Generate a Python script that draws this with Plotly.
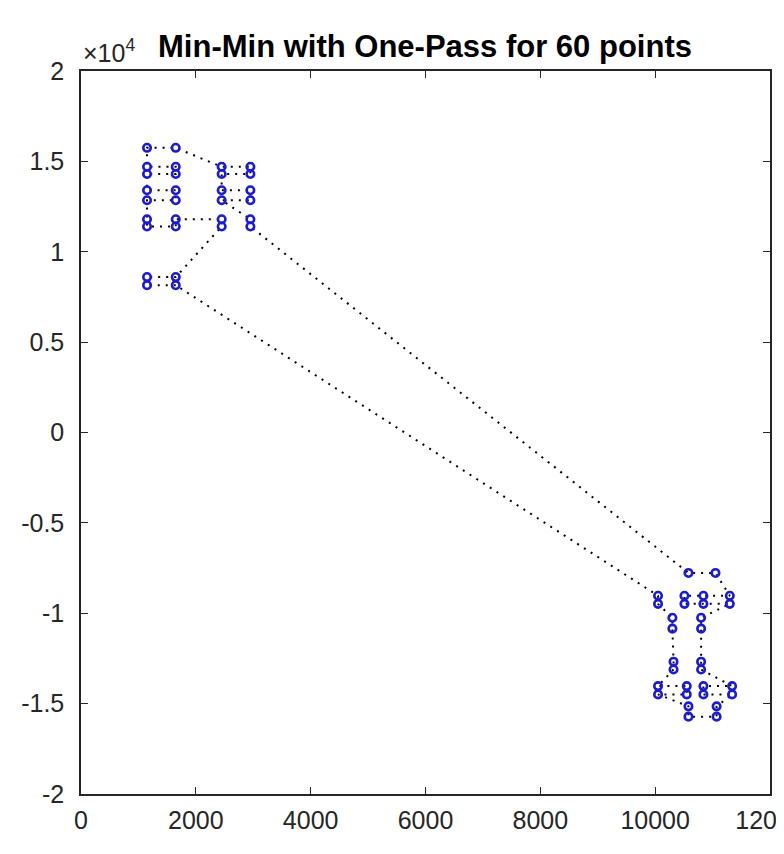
import plotly.graph_objects as go

# Tour order (closed loop) of the 60 points
x_pts = [1650, 1150, 1150, 1650, 2450, 2450, 1650, 1650, 1150, 1150,
         1150, 1650, 1650, 1150, 1150, 1650, 1650, 1150, 1150, 1650,
         2450, 2950, 2950, 2450, 2450, 2950, 2950, 2450, 2950, 2950,
         10580, 11050, 11300, 10840, 10510, 10510, 10840, 11300, 10800, 10800,
         10800, 10800, 11340, 10840, 10840, 11340, 11070, 11070, 10580, 10580,
         10050, 10550, 10550, 10050, 10320, 10320, 10300, 10300, 10050, 10050]
y_pts = [8150, 8150, 8600, 8600, 11400, 11800, 11800, 11400, 11400, 11800,
         12850, 12850, 13400, 13400, 14300, 14300, 14700, 14700, 15750, 15750,
         14700, 14700, 14300, 14300, 13400, 13400, 12850, 12850, 11800, 11400,
         -7770, -7770, -9030, -9030, -9030, -9480, -9480, -9480, -10250, -10850,
         -12680, -13110, -14030, -14030, -14490, -14490, -15150, -15720, -15720, -15150,
         -14490, -14490, -14030, -14030, -13110, -12680, -10850, -10250, -9480, -9030]

x_ticks = [0, 2000, 4000, 6000, 8000, 10000, 12000]
x_tick_text = ["0", "2000", "4000", "6000", "8000", "10000", "12000"]
y_ticks = [-20000, -15000, -10000, -5000, 0, 5000, 10000, 15000, 20000]
y_tick_text = ["-2", "-1.5", "-1", "-0.5", "0", "0.5", "1", "1.5", "2"]
title_text = "Min-Min with One-Pass for 60 points"

W, H = 776, 846

fig = go.Figure()
fig.add_trace(go.Scatter(
    x=x_pts + x_pts[:1], y=y_pts + y_pts[:1], mode="lines",
    line=dict(color="black", width=2, dash="2px,6px"),
    hoverinfo="skip", showlegend=False))
fig.add_trace(go.Scatter(
    x=x_pts, y=y_pts, mode="markers",
    marker=dict(symbol="circle-open", size=7.5, color="#1c1cc8",
                line=dict(width=2.6, color="#1c1cc8")),
    showlegend=False))

axis_font = dict(family="Liberation Sans, Arial, sans-serif", size=25, color="#262626")
fig.update_xaxes(range=[0, 12000], tickvals=x_ticks, ticktext=x_tick_text,
                 ticks="inside", ticklen=7, automargin=False,
                 ticklabeloverflow="allow",
                 tickwidth=1, tickcolor="#262626", mirror="ticks", showline=True,
                 linecolor="#262626", linewidth=1.5, showgrid=False, zeroline=False,
                 tickfont=axis_font, ticklabelstandoff=3)
fig.update_yaxes(range=[-20000, 20000], tickvals=y_ticks, ticktext=y_tick_text,
                 ticks="inside", ticklen=7, tickwidth=1, tickcolor="#262626",
                 automargin=False, ticklabeloverflow="allow",
                 mirror="ticks", showline=True, linecolor="#262626", linewidth=1.5,
                 showgrid=False, zeroline=False, tickfont=axis_font,
                 ticklabelstandoff=10)

fig.update_layout(
    width=W, height=H,
    margin=dict(l=73, r=14, t=63, b=60),
    plot_bgcolor="white", paper_bgcolor="white",
    title=dict(text="<b>" + title_text + "</b>", x=417 / W, xanchor="center",
               y=1 - 38 / H, yanchor="middle", yref="container",
               automargin=False,
               font=dict(family="Liberation Sans, Arial, sans-serif", size=31,
                         color="black")),
    annotations=[dict(text="×10<sup>4</sup>", xref="paper", yref="paper",
                      x=0, y=1, xanchor="left", yanchor="bottom", yshift=2,
                      showarrow=False,
                      font=dict(family="Liberation Sans, Arial, sans-serif",
                                size=25, color="#262626"))],
)

fig.write_html("out.html")
